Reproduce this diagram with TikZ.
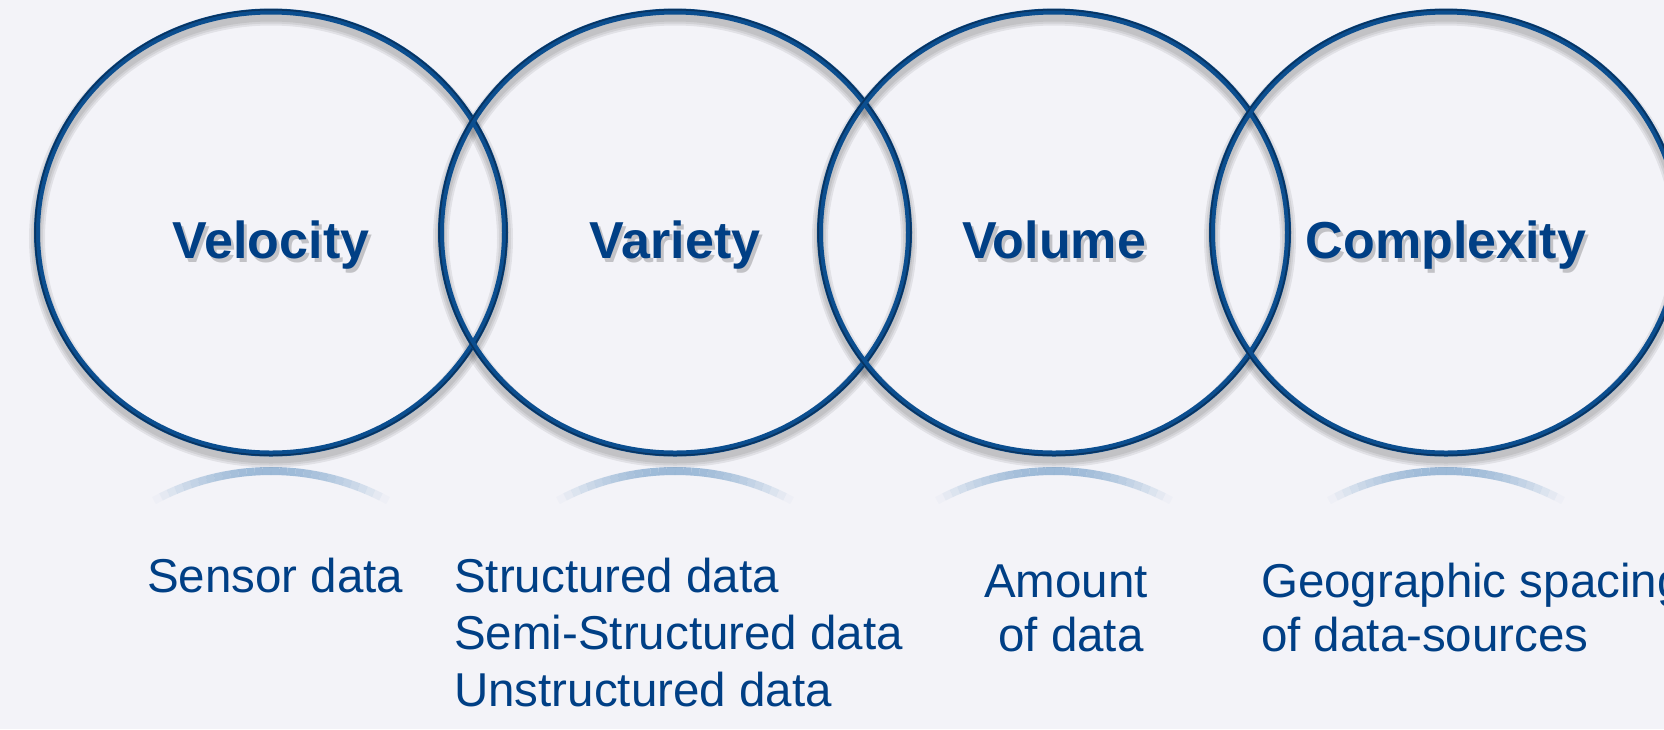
\documentclass[tikz,border=0pt]{standalone}
\usepackage{fontspec}
\setmainfont{Liberation Sans}
\definecolor{bg}{HTML}{F3F3F8}
\definecolor{ring}{HTML}{0B4E8F}
\definecolor{ringdark}{HTML}{061F3D}
\definecolor{txt}{HTML}{003F85}
\definecolor{refl}{HTML}{7FA6CC}
\begin{document}
\begin{tikzpicture}[x=1pt,y=-1pt,
  title/.style={font=\fontsize{52}{60}\selectfont\bfseries, text=txt, inner sep=0pt, anchor=base},
  titleshadow/.style={font=\fontsize{52}{60}\selectfont\bfseries, text=black, text opacity=0.2, inner sep=0pt, anchor=base},
  lbl/.style={font=\fontsize{47.5}{57}\selectfont, text=txt, inner sep=0pt, anchor=base west},
  lblc/.style={font=\fontsize{47.5}{57}\selectfont, text=txt, inner sep=0pt, anchor=base},
  ringline/.style={draw=ring, line width=6pt},
  ringedge/.style={draw=ringdark, line width=1.6pt, opacity=0.55},
  ringshadow/.style={draw=black, opacity=0.07},
]
\fill[bg] (0,0) rectangle (1664,729);
\useasboundingbox (0,0) rectangle (1664,729);
\clip (0,0) rectangle (1664,729);

\coordinate (c1) at (271,232.5);
\coordinate (c2) at (675,232.5);
\coordinate (c3) at (1054,232.5);
\coordinate (c4) at (1446,232.5);

% reflections
\foreach \cx in {271,675,1054,1446}{
  \foreach \a in {240,242,...,298}{
    \pgfmathsetmacro{\o}{0.75*sin((\a+1-240)*3)}
    \draw[refl, line width=8pt, opacity=\o]
      ({\cx+234*cos(\a)},{692+221*sin(\a)}) arc[start angle=\a, end angle=\a+2, x radius=234, y radius=221];
  }
}

% ring shadows
\foreach \c in {c1,c2,c3,c4}{
  \foreach \w in {16,12,8}{
    \draw[ringshadow, line width=\w pt] ([yshift=-6pt]\c) ellipse [x radius=234, y radius=221];
  }
}
% rings
\foreach \c in {c1,c2,c3,c4}{
  \draw[ringline] (\c) ellipse [x radius=234, y radius=221];
  \draw[ringedge] (\c) ellipse [x radius=235.8, y radius=222.8];
}

% titles with shadows
\node[titleshadow] at (274,262) {Velocity};
\node[titleshadow] at (678,262) {Variety};
\node[titleshadow] at (1057,262) {Volume};
\node[titleshadow] at (1449,262) {Complexity};
\node[title] (t1) at (271,258) {Velocity};
\node[title] (t2) at (675,258) {Variety};
\node[title] (t3) at (1054,258) {Volume};
\node[title] (t4) at (1446,258) {Complexity};

% labels
\node[lbl] (s1) at (147,592) {Sensor data};
\node[lbl] (v1) at (454,592) {Structured data};
\node[lbl] (v2) at (454,649) {Semi-Structured data};
\node[lbl] (v3) at (454,706) {Unstructured data};
\node[lblc] (a1) at (1066,597) {Amount};
\node[lblc] (a2) at (1071,651) {of data};
\node[lbl] (g1) at (1261,597) {Geographic spacing};
\node[lbl] (g2) at (1261,651) {of data-sources};
\end{tikzpicture}
\end{document}
